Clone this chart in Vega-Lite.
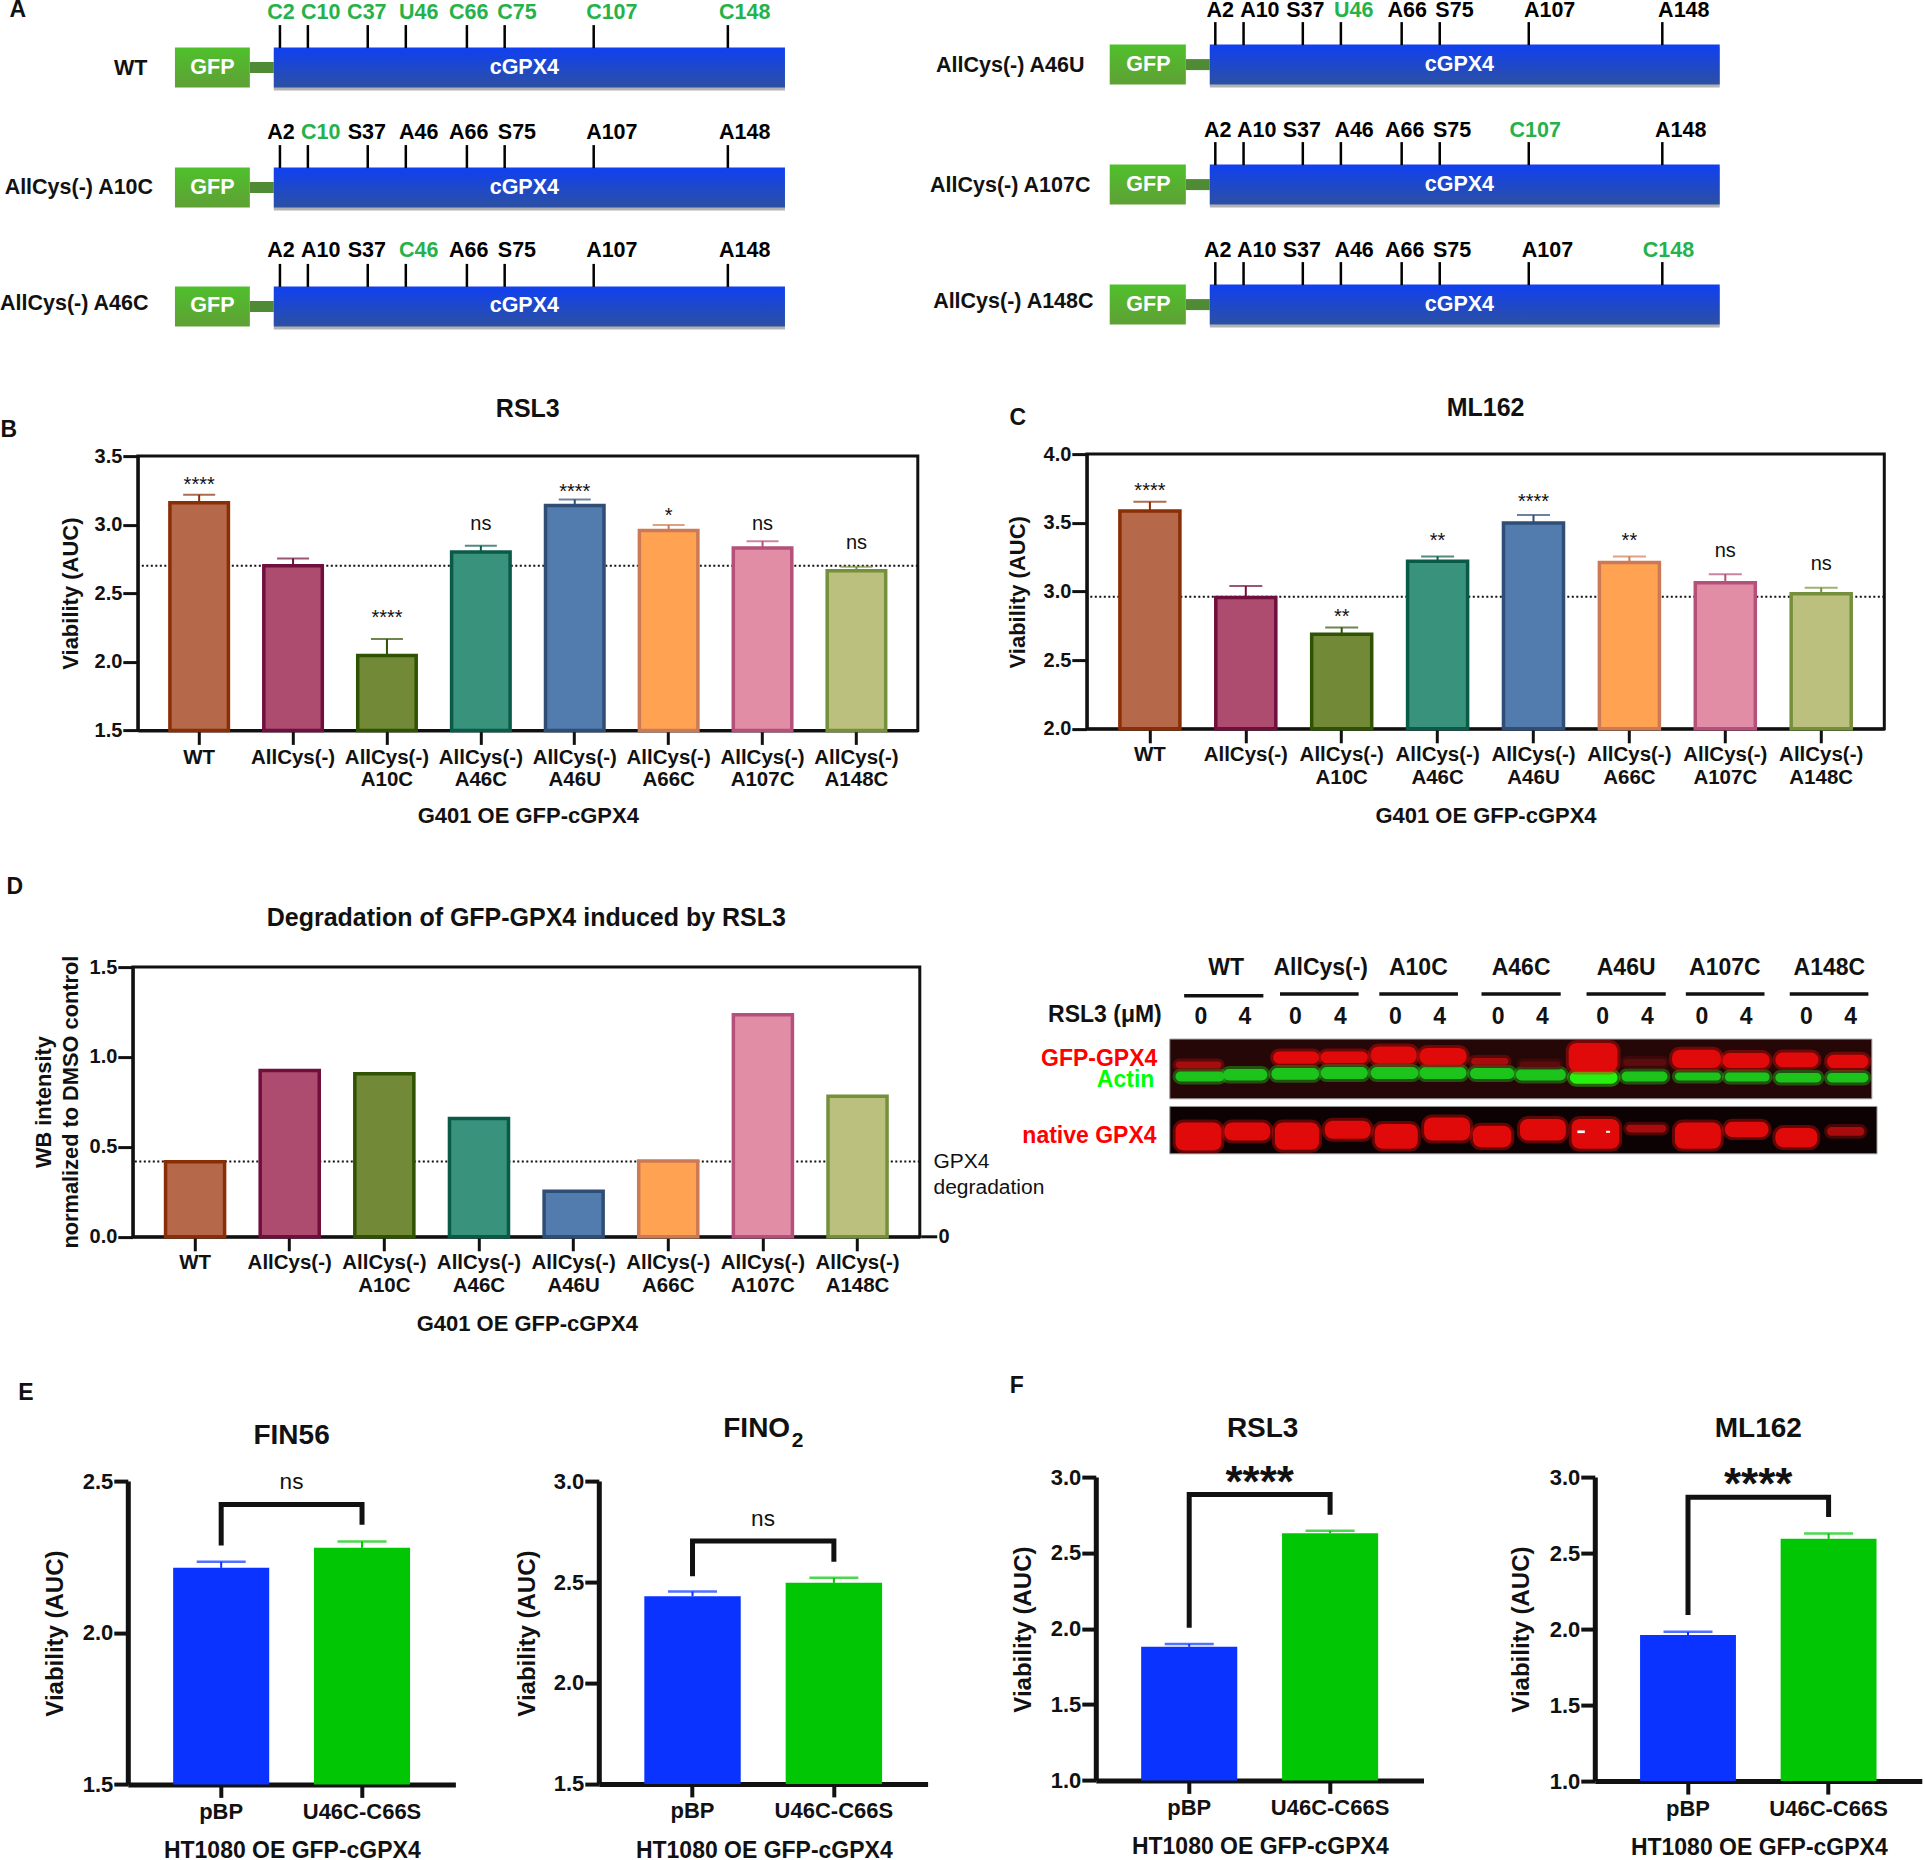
{"$schema":"https://vega.github.io/schema/vega-lite/v6.json","padding":{"left":-1.2,"top":-0.9,"right":0,"bottom":0},"background":"white","bounds":"flush","spacing":0,
"resolve":{"scale":{"color":"independent","fill":"independent","stroke":"independent"}},
"config":{"view":{"stroke":null},"font":"Liberation Sans",
"axis":{"grid":false,"labelFont":"Liberation Sans","titleFont":"Liberation Sans","labelFontWeight":"bold","titleFontWeight":"bold","domainColor":"#111","tickColor":"#111","labelColor":"#111","titleColor":"#111","domainWidth":3,"tickWidth":3,"zindex":1,"labelOverlap":false,"titleBaseline":"middle","titleAlign":"center"},
"axisX":{"labelAngle":0,"tickSize":14,"labelFontSize":20.5,"labelPadding":3,"labelLineHeight":22.5,"titleFontSize":22,"labelBaseline":"top"},
"axisY":{"tickSize":15,"labelFontSize":20,"labelPadding":1,"titleFontSize":22},
"title":{"font":"Liberation Sans","fontWeight":"bold","color":"#111","anchor":"middle"},
"text":{"font":"Liberation Sans","baseline":"middle","color":"#111"}},
"datasets":{
"constructsL":[{"row":1,"name":"WT","nx":-46.6,"ny":1.008},{"row":2,"name":"AllCys(-) A10C","nx":-63.5,"ny":2},{"row":2.99,"name":"AllCys(-) A46C","nx":-65,"ny":2.967}],
"constructsR":[{"row":1,"name":"AllCys(-) A46U","nx":-65,"ny":1.01},{"row":2,"name":"AllCys(-) A107C","nx":-65,"ny":2.01},{"row":3,"name":"AllCys(-) A148C","nx":-64,"ny":2.98}],
"sitesL":[
{"row":1,"pos":2,"lx":2.3,"label":"C2"},{"row":1,"pos":11.1,"lx":15.3,"label":"C10"},{"row":1,"pos":30.6,"lx":30.3,"label":"C37"},{"row":1,"pos":43,"lx":47.2,"label":"U46"},{"row":1,"pos":62.9,"lx":63.5,"label":"C66"},{"row":1,"pos":75.2,"lx":79.2,"label":"C75"},{"row":1,"pos":104.2,"lx":110.1,"label":"C107"},{"row":1,"pos":147.9,"lx":153.4,"label":"C148"},
{"row":2,"pos":2,"lx":2.3,"label":"A2"},{"row":2,"pos":11.1,"lx":15.3,"label":"C10"},{"row":2,"pos":30.6,"lx":30.3,"label":"S37"},{"row":2,"pos":43,"lx":47.2,"label":"A46"},{"row":2,"pos":62.9,"lx":63.5,"label":"A66"},{"row":2,"pos":75.2,"lx":79.2,"label":"S75"},{"row":2,"pos":104.2,"lx":110.1,"label":"A107"},{"row":2,"pos":147.9,"lx":153.4,"label":"A148"},
{"row":2.99,"pos":2,"lx":2.3,"label":"A2"},{"row":2.99,"pos":11.1,"lx":15.3,"label":"A10"},{"row":2.99,"pos":30.6,"lx":30.3,"label":"S37"},{"row":2.99,"pos":43,"lx":47.2,"label":"C46"},{"row":2.99,"pos":62.9,"lx":63.5,"label":"A66"},{"row":2.99,"pos":75.2,"lx":79.2,"label":"S75"},{"row":2.99,"pos":104.2,"lx":110.1,"label":"A107"},{"row":2.99,"pos":147.9,"lx":153.4,"label":"A148"}],
"sitesR":[
{"row":1,"pos":1.8,"lx":3.4,"label":"A2"},{"row":1,"pos":11,"lx":16.3,"label":"A10"},{"row":1,"pos":30.3,"lx":31.1,"label":"S37"},{"row":1,"pos":42.7,"lx":46.9,"label":"U46"},{"row":1,"pos":62.5,"lx":64.3,"label":"A66"},{"row":1,"pos":74.9,"lx":79.7,"label":"S75"},{"row":1,"pos":103.9,"lx":110.7,"label":"A107"},{"row":1,"pos":147.4,"lx":154.4,"label":"A148"},
{"row":2,"pos":1.8,"lx":2.6,"label":"A2"},{"row":2,"pos":11,"lx":15.3,"label":"A10"},{"row":2,"pos":30.3,"lx":30,"label":"S37"},{"row":2,"pos":42.7,"lx":47,"label":"A46"},{"row":2,"pos":62.5,"lx":63.5,"label":"A66"},{"row":2,"pos":74.9,"lx":78.9,"label":"S75"},{"row":2,"pos":103.9,"lx":106,"label":"C107"},{"row":2,"pos":147.4,"lx":153.4,"label":"A148"},
{"row":3,"pos":1.8,"lx":2.6,"label":"A2"},{"row":3,"pos":11,"lx":15.3,"label":"A10"},{"row":3,"pos":30.3,"lx":30,"label":"S37"},{"row":3,"pos":42.7,"lx":47,"label":"A46"},{"row":3,"pos":62.5,"lx":63.5,"label":"A66"},{"row":3,"pos":74.9,"lx":78.9,"label":"S75"},{"row":3,"pos":103.9,"lx":110,"label":"A107"},{"row":3,"pos":147.4,"lx":149.4,"label":"C148"}],
"rsl3":[{"construct":"WT","v":3.16,"cap":3.218,"sig":"****","sig_y":3.29},{"construct":"AllCys(-)","v":2.70,"cap":2.754,"sig":"","sig_y":2.9},{"construct":"AllCys(-)|A10C","v":2.047,"cap":2.166,"sig":"****","sig_y":2.32},{"construct":"AllCys(-)|A46C","v":2.80,"cap":2.846,"sig":"ns","sig_y":3.007},{"construct":"AllCys(-)|A46U","v":3.14,"cap":3.184,"sig":"****","sig_y":3.236},{"construct":"AllCys(-)|A66C","v":2.958,"cap":2.997,"sig":"*","sig_y":3.066},{"construct":"AllCys(-)|A107C","v":2.83,"cap":2.88,"sig":"ns","sig_y":3.007},{"construct":"AllCys(-)|A148C","v":2.664,"cap":2.693,"sig":"ns","sig_y":2.863}],
"ml162":[{"construct":"WT","v":3.585,"cap":3.653,"sig":"****","sig_y":3.73},{"construct":"AllCys(-)","v":2.956,"cap":3.039,"sig":"","sig_y":3.2},{"construct":"AllCys(-)|A10C","v":2.689,"cap":2.738,"sig":"**","sig_y":2.815},{"construct":"AllCys(-)|A46C","v":3.22,"cap":3.255,"sig":"**","sig_y":3.37},{"construct":"AllCys(-)|A46U","v":3.498,"cap":3.556,"sig":"****","sig_y":3.65},{"construct":"AllCys(-)|A66C","v":3.211,"cap":3.255,"sig":"**","sig_y":3.37},{"construct":"AllCys(-)|A107C","v":3.063,"cap":3.126,"sig":"ns","sig_y":3.294},{"construct":"AllCys(-)|A148C","v":2.983,"cap":3.027,"sig":"ns","sig_y":3.199}],
"degr":[{"construct":"WT","v":0.417},{"construct":"AllCys(-)","v":0.925},{"construct":"AllCys(-)|A10C","v":0.907},{"construct":"AllCys(-)|A46C","v":0.658},{"construct":"AllCys(-)|A46U","v":0.254},{"construct":"AllCys(-)|A66C","v":0.421},{"construct":"AllCys(-)|A107C","v":1.235},{"construct":"AllCys(-)|A148C","v":0.782}],
"gelBack":[{"x":295,"x2":1518,"y":328,"y2":507,"panel":"top"},{"x":295,"x2":1527,"y":530,"y2":672,"panel":"bottom"}],
"gelBands":[
{"x":305,"x2":390,"y":425,"y2":455,"signal":"green"},{"x":388,"x2":465,"y":418,"y2":452,"signal":"green"},{"x":472,"x2":555,"y":415,"y2":450,"signal":"green"},{"x":558,"x2":640,"y":412,"y2":448,"signal":"green"},{"x":645,"x2":728,"y":412,"y2":448,"signal":"green"},{"x":730,"x2":812,"y":412,"y2":448,"signal":"green"},{"x":818,"x2":895,"y":415,"y2":448,"signal":"green"},{"x":898,"x2":985,"y":418,"y2":452,"signal":"green"},{"x":992,"x2":1075,"y":425,"y2":462,"signal":"green high"},{"x":1082,"x2":1162,"y":425,"y2":455,"signal":"green"},{"x":1175,"x2":1255,"y":428,"y2":452,"signal":"green"},{"x":1262,"x2":1340,"y":428,"y2":455,"signal":"green"},{"x":1350,"x2":1430,"y":430,"y2":458,"signal":"green"},{"x":1440,"x2":1512,"y":430,"y2":458,"signal":"green"},
{"x":305,"x2":385,"y":395,"y2":415,"signal":"red mid"},{"x":475,"x2":555,"y":365,"y2":402,"signal":"red high"},{"x":558,"x2":640,"y":365,"y2":400,"signal":"red high"},{"x":645,"x2":725,"y":350,"y2":402,"signal":"red high"},{"x":730,"x2":812,"y":355,"y2":405,"signal":"red high"},{"x":820,"x2":885,"y":385,"y2":405,"signal":"red mid"},{"x":905,"x2":975,"y":395,"y2":412,"signal":"red low"},{"x":990,"x2":1075,"y":340,"y2":425,"signal":"red high"},{"x":1085,"x2":1160,"y":388,"y2":408,"signal":"red low"},{"x":1170,"x2":1255,"y":360,"y2":415,"signal":"red high"},{"x":1258,"x2":1340,"y":370,"y2":415,"signal":"red high"},{"x":1350,"x2":1425,"y":368,"y2":412,"signal":"red high"},{"x":1440,"x2":1512,"y":375,"y2":415,"signal":"red high"},
{"x":305,"x2":385,"y":578,"y2":662,"signal":"red high"},{"x":390,"x2":470,"y":578,"y2":632,"signal":"red high"},{"x":478,"x2":555,"y":578,"y2":660,"signal":"red high"},{"x":565,"x2":645,"y":573,"y2":627,"signal":"red high"},{"x":652,"x2":727,"y":583,"y2":657,"signal":"red high"},{"x":738,"x2":818,"y":563,"y2":632,"signal":"red high"},{"x":823,"x2":890,"y":588,"y2":652,"signal":"red high"},{"x":905,"x2":985,"y":568,"y2":632,"signal":"red high"},{"x":995,"x2":1078,"y":568,"y2":657,"signal":"red high"},{"x":1090,"x2":1160,"y":585,"y2":608,"signal":"red mid"},{"x":1175,"x2":1255,"y":578,"y2":657,"signal":"red high"},{"x":1262,"x2":1338,"y":576,"y2":622,"signal":"red high"},{"x":1350,"x2":1423,"y":595,"y2":652,"signal":"red high"},{"x":1440,"x2":1505,"y":592,"y2":618,"signal":"red mid"}],
"gelSpecks":[{"x":1005,"x2":1018,"y":602,"y2":610},{"x":1055,"x2":1062,"y":603,"y2":609}],
"gelLines":[{"x":320,"x2":458,"y":198},{"x":487,"x2":624,"y":193},{"x":660,"x2":797,"y":193},{"x":838,"x2":976,"y":193},{"x":1021,"x2":1159,"y":193},{"x":1194,"x2":1331,"y":193},{"x":1375,"x2":1512,"y":193}],
"gelText":[{"x":393,"y":115,"label":"WT"},{"x":558,"y":115,"label":"AllCys(-)"},{"x":728,"y":115,"label":"A10C"},{"x":907,"y":115,"label":"A46C"},{"x":1090,"y":115,"label":"A46U"},{"x":1262,"y":115,"label":"A107C"},{"x":1444,"y":115,"label":"A148C"},{"x":182,"y":255,"label":"RSL3 (μM)"},
{"x":349,"y":262,"label":"0"},{"x":426,"y":262,"label":"4"},{"x":514,"y":262,"label":"0"},{"x":592,"y":262,"label":"4"},{"x":688,"y":262,"label":"0"},{"x":765,"y":262,"label":"4"},{"x":867,"y":262,"label":"0"},{"x":944,"y":262,"label":"4"},{"x":1049,"y":262,"label":"0"},{"x":1127,"y":262,"label":"4"},{"x":1222,"y":262,"label":"0"},{"x":1299,"y":262,"label":"4"},{"x":1404,"y":262,"label":"0"},{"x":1481,"y":262,"label":"4"},
{"x":172,"y":388,"label":"GFP-GPX4"},{"x":218,"y":450,"label":"Actin"},{"x":155,"y":618,"label":"native GPX4"}]
},
"vconcat":[
{"bounds":"flush","spacing":0,"hconcat":[
{"width":962,"height":340,
"layer":[
{"data":{"name":"constructsL"},"mark":{"type":"bar","orient":"horizontal","size":40,"color":"#555","opacity":0.45,"yOffset":3},"encoding":{"y":{"field":"row","type":"quantitative","scale":{"domain":[0.4292,3.2625],"reverse":true,"nice":false,"padding":0},"axis":null},"x":{"datum":0,"type":"quantitative","scale":{"domain":[-89.25,224.1],"nice":false},"axis":null},"x2":{"datum":166.5}}},
{"data":{"name":"constructsL"},"mark":{"type":"bar","orient":"horizontal","size":11,"color":"#4f8a35"},"encoding":{"y":{"field":"row","type":"quantitative","axis":null},"x":{"datum":-7.8,"type":"quantitative","axis":null},"x2":{"datum":0}}},
{"data":{"name":"constructsL"},"mark":{"type":"bar","orient":"horizontal","size":40,"color":{"gradient":"linear","x1":0,"y1":0,"x2":0,"y2":1,"stops":[{"offset":0,"color":"#1040f2"},{"offset":1,"color":"#2c50a2"}]}},"encoding":{"y":{"field":"row","type":"quantitative","axis":null},"x":{"datum":0,"type":"quantitative","axis":null},"x2":{"datum":166.5}}},
{"data":{"name":"constructsL"},"mark":{"type":"bar","orient":"horizontal","size":40,"color":{"gradient":"linear","x1":0,"y1":0,"x2":0,"y2":1,"stops":[{"offset":0,"color":"#4fc02c"},{"offset":1,"color":"#5fa035"}]}},"encoding":{"y":{"field":"row","type":"quantitative","axis":null},"x":{"datum":-32.2,"type":"quantitative","axis":null},"x2":{"datum":-7.8}}},
{"data":{"name":"sitesL"},"mark":{"type":"tick","orient":"vertical","size":23,"thickness":2.5,"color":"#000","yOffset":-31,"opacity":1},"encoding":{"x":{"field":"pos","type":"quantitative","axis":null},"y":{"field":"row","type":"quantitative","axis":null}}},
{"data":{"name":"sitesL"},"mark":{"type":"text","fontSize":21.5,"fontWeight":"bold","yOffset":-55},"encoding":{"x":{"field":"lx","type":"quantitative","axis":null},"y":{"field":"row","type":"quantitative","axis":null},"text":{"field":"label"},"color":{"condition":{"test":"test(/^[CU]/,datum.label)","value":"#25b24a"},"value":"#000"}}},
{"data":{"name":"constructsL"},"mark":{"type":"text","fontSize":21.5,"fontWeight":"bold"},"encoding":{"x":{"field":"nx","type":"quantitative","axis":null},"y":{"field":"ny","type":"quantitative","axis":null},"text":{"field":"name"}}},
{"data":{"name":"constructsL"},"mark":{"type":"text","fontSize":21.5,"fontWeight":"bold","color":"#fff"},"encoding":{"x":{"datum":81.6,"type":"quantitative","axis":null},"y":{"field":"row","type":"quantitative","axis":null},"text":{"datum":"cGPX4"}}},
{"data":{"name":"constructsL"},"mark":{"type":"text","fontSize":21.5,"fontWeight":"bold","color":"#fff"},"encoding":{"x":{"datum":-20,"type":"quantitative","axis":null},"y":{"field":"row","type":"quantitative","axis":null},"text":{"datum":"GFP"}}}
]}]},
{"bounds":"flush","spacing":0,"hconcat":[
{"width":962,"height":1,"data":{"values":[]},"mark":"point","encoding":{}},
{"width":963,"height":340,
"layer":[
{"data":{"name":"constructsR"},"mark":{"type":"bar","orient":"horizontal","size":40,"color":"#555","opacity":0.45,"yOffset":3},"encoding":{"y":{"field":"row","type":"quantitative","scale":{"domain":[0.4542,3.2875],"reverse":true,"nice":false,"padding":0},"axis":null},"x":{"datum":0,"type":"quantitative","scale":{"domain":[-80.78,232.9],"nice":false},"axis":null},"x2":{"datum":166.1}}},
{"data":{"name":"constructsR"},"mark":{"type":"bar","orient":"horizontal","size":11,"color":"#4f8a35"},"encoding":{"y":{"field":"row","type":"quantitative","axis":null},"x":{"datum":-7.8,"type":"quantitative","axis":null},"x2":{"datum":0}}},
{"data":{"name":"constructsR"},"mark":{"type":"bar","orient":"horizontal","size":40,"color":{"gradient":"linear","x1":0,"y1":0,"x2":0,"y2":1,"stops":[{"offset":0,"color":"#1040f2"},{"offset":1,"color":"#2c50a2"}]}},"encoding":{"y":{"field":"row","type":"quantitative","axis":null},"x":{"datum":0,"type":"quantitative","axis":null},"x2":{"datum":166.1}}},
{"data":{"name":"constructsR"},"mark":{"type":"bar","orient":"horizontal","size":40,"color":{"gradient":"linear","x1":0,"y1":0,"x2":0,"y2":1,"stops":[{"offset":0,"color":"#4fc02c"},{"offset":1,"color":"#5fa035"}]}},"encoding":{"y":{"field":"row","type":"quantitative","axis":null},"x":{"datum":-32.6,"type":"quantitative","axis":null},"x2":{"datum":-7.8}}},
{"data":{"name":"sitesR"},"mark":{"type":"tick","orient":"vertical","size":23,"thickness":2.5,"color":"#000","yOffset":-31,"opacity":1},"encoding":{"x":{"field":"pos","type":"quantitative","axis":null},"y":{"field":"row","type":"quantitative","axis":null}}},
{"data":{"name":"sitesR"},"mark":{"type":"text","fontSize":21.5,"fontWeight":"bold","yOffset":-54},"encoding":{"x":{"field":"lx","type":"quantitative","axis":null},"y":{"field":"row","type":"quantitative","axis":null},"text":{"field":"label"},"color":{"condition":{"test":"test(/^[CU]/,datum.label)","value":"#25b24a"},"value":"#000"}}},
{"data":{"name":"constructsR"},"mark":{"type":"text","fontSize":21.5,"fontWeight":"bold"},"encoding":{"x":{"field":"nx","type":"quantitative","axis":null},"y":{"field":"ny","type":"quantitative","axis":null},"text":{"field":"name"}}},
{"data":{"name":"constructsR"},"mark":{"type":"text","fontSize":21.5,"fontWeight":"bold","color":"#fff"},"encoding":{"x":{"datum":81.3,"type":"quantitative","axis":null},"y":{"field":"row","type":"quantitative","axis":null},"text":{"datum":"cGPX4"}}},
{"data":{"name":"constructsR"},"mark":{"type":"text","fontSize":21.5,"fontWeight":"bold","color":"#fff"},"encoding":{"x":{"datum":-20,"type":"quantitative","axis":null},"y":{"field":"row","type":"quantitative","axis":null},"text":{"datum":"GFP"}}}
]}]},
{"bounds":"flush","spacing":0,"hconcat":[
{"width":138,"height":1,"data":{"values":[]},"mark":"point","encoding":{}},
{"bounds":"flush","spacing":0,"vconcat":[
{"width":1,"height":456.7,"data":{"values":[]},"mark":"point","encoding":{}},
{"width":780,"height":274.3,"view":{"stroke":"#111","strokeWidth":3},"title":{"text":"RSL3","fontSize":25,"offset":24},"data":{"name":"rsl3"},
"encoding":{"x":{"field":"construct","type":"nominal","sort":null,"scale":{"paddingInner":0.377,"paddingOuter":0.342},"axis":{"title":"G401 OE GFP-cGPX4","labelExpr":"split(datum.label,'|')","titleX":390,"titleY":85}}},
"layer":[
{"data":{"values":[{"ref":2.7}]},"mark":{"type":"rule","strokeDash":[2,2.5],"strokeWidth":2,"color":"#111"},"encoding":{"x":null,"y":{"field":"ref","type":"quantitative","scale":{"domain":[1.5,3.5],"nice":false},"axis":{"title":"Viability (AUC)","values":[1.5,2,2.5,3,3.5],"format":".1f","titleX":-67.5,"titleY":137}}}},
{"mark":{"type":"rule","strokeWidth":2},"encoding":{"y":{"field":"v","type":"quantitative"},"y2":{"field":"cap"},"color":{"field":"construct","type":"nominal","sort":null,"scale":{"range":["#8a2e05","#6e0f3d","#2f5203","#0a5a48","#2f4d75","#cc7a55","#b5507a","#75903a"]},"legend":null}}},
{"mark":{"type":"tick","orient":"horizontal","size":32,"thickness":2},"encoding":{"y":{"field":"cap","type":"quantitative"},"color":{"field":"construct","type":"nominal","sort":null,"legend":null}}},
{"mark":{"type":"bar","strokeWidth":3.5},"encoding":{"y":{"field":"v","type":"quantitative"},"y2":{"datum":1.5},"fill":{"field":"construct","type":"nominal","sort":null,"scale":{"range":["#b5694a","#ae4c70","#728a38","#38927c","#527cad","#ffa352","#e08da5","#bcc07e"]},"legend":null},"stroke":{"field":"construct","type":"nominal","sort":null,"scale":{"range":["#8a2e05","#6e0f3d","#2f5203","#0a5a48","#2f4d75","#cc7a55","#b5507a","#75903a"]},"legend":null}}},
{"mark":{"type":"text","fontSize":20},"encoding":{"y":{"field":"sig_y","type":"quantitative"},"text":{"field":"sig"}}}
]}]}]},
{"bounds":"flush","spacing":0,"hconcat":[
{"width":1086.5,"height":1,"data":{"values":[]},"mark":"point","encoding":{}},
{"bounds":"flush","spacing":0,"vconcat":[
{"width":1,"height":454.3,"data":{"values":[]},"mark":"point","encoding":{}},
{"width":797.5,"height":274.7,"view":{"stroke":"#111","strokeWidth":3},"title":{"text":"ML162","fontSize":25,"offset":23},"data":{"name":"ml162"},
"encoding":{"x":{"field":"construct","type":"nominal","sort":null,"scale":{"paddingInner":0.374,"paddingOuter":0.345},"axis":{"title":"G401 OE GFP-cGPX4","labelExpr":"split(datum.label,'|')","titleX":398.7,"titleY":87,"labelPadding":2}}},
"layer":[
{"data":{"values":[{"ref":2.961}]},"mark":{"type":"rule","strokeDash":[2,2.5],"strokeWidth":2,"color":"#111"},"encoding":{"x":null,"y":{"field":"ref","type":"quantitative","scale":{"domain":[2,4],"nice":false},"axis":{"title":"Viability (AUC)","values":[2,2.5,3,3.5,4],"format":".1f","titleX":-69.5,"titleY":137.7}}}},
{"mark":{"type":"rule","strokeWidth":2},"encoding":{"y":{"field":"v","type":"quantitative"},"y2":{"field":"cap"},"color":{"field":"construct","type":"nominal","sort":null,"scale":{"range":["#8a2e05","#6e0f3d","#2f5203","#0a5a48","#2f4d75","#cc7a55","#b5507a","#75903a"]},"legend":null}}},
{"mark":{"type":"tick","orient":"horizontal","size":33,"thickness":2},"encoding":{"y":{"field":"cap","type":"quantitative"},"color":{"field":"construct","type":"nominal","sort":null,"legend":null}}},
{"mark":{"type":"bar","strokeWidth":3.5},"encoding":{"y":{"field":"v","type":"quantitative"},"y2":{"datum":2},"fill":{"field":"construct","type":"nominal","sort":null,"scale":{"range":["#b5694a","#ae4c70","#728a38","#38927c","#527cad","#ffa352","#e08da5","#bcc07e"]},"legend":null},"stroke":{"field":"construct","type":"nominal","sort":null,"scale":{"range":["#8a2e05","#6e0f3d","#2f5203","#0a5a48","#2f4d75","#cc7a55","#b5507a","#75903a"]},"legend":null}}},
{"mark":{"type":"text","fontSize":20},"encoding":{"y":{"field":"sig_y","type":"quantitative"},"text":{"field":"sig"}}}
]}]}]},
{"bounds":"flush","spacing":0,"hconcat":[
{"width":132.5,"height":1,"data":{"values":[]},"mark":"point","encoding":{}},
{"bounds":"flush","spacing":0,"vconcat":[
{"width":1,"height":968,"data":{"values":[]},"mark":"point","encoding":{}},
{"width":787,"height":269.7,"view":{"stroke":"#111","strokeWidth":3},"title":{"text":"Degradation of GFP-GPX4 induced by RSL3","fontSize":25,"offset":24},"data":{"name":"degr"},
"encoding":{"x":{"field":"construct","type":"nominal","sort":null,"scale":{"paddingInner":0.376,"paddingOuter":0.346},"axis":{"title":"G401 OE GFP-cGPX4","labelExpr":"split(datum.label,'|')","titleX":394,"titleY":87,"labelPadding":2}}},
"layer":[
{"data":{"values":[{"ref":0.419}]},"mark":{"type":"rule","strokeDash":[2,2.5],"strokeWidth":2,"color":"#111"},"encoding":{"x":null,"y":{"field":"ref","type":"quantitative","scale":{"domain":[0,1.5],"nice":false},"axis":{"title":["WB intensity","normalized to DMSO control"],"values":[0,0.5,1,1.5],"format":".1f","titleX":-89.5,"titleY":134.5,"titleLineHeight":27,"titleFontSize":21.8}}}},
{"mark":{"type":"bar","strokeWidth":3.5},"encoding":{"y":{"field":"v","type":"quantitative"},"y2":{"datum":0},"fill":{"field":"construct","type":"nominal","sort":null,"scale":{"range":["#b5694a","#ae4c70","#728a38","#38927c","#527cad","#ffa352","#e08da5","#bcc07e"]},"legend":null},"stroke":{"field":"construct","type":"nominal","sort":null,"scale":{"range":["#8a2e05","#6e0f3d","#2f5203","#0a5a48","#2f4d75","#cc7a55","#b5507a","#75903a"]},"legend":null}}},
{"data":{"values":[{"construct":"AllCys(-)|A148C","v":0,"note":"0"}]},"mark":{"type":"tick","orient":"horizontal","size":16,"thickness":3,"color":"#111","xOffset":71.7,"opacity":1},"encoding":{"y":{"field":"v","type":"quantitative"}}},
{"data":{"values":[{"construct":"AllCys(-)|A148C","v":0,"note":"0"}]},"mark":{"type":"text","fontSize":20,"fontWeight":"bold","align":"left","xOffset":81},"encoding":{"y":{"field":"v","type":"quantitative"},"text":{"field":"note"}}},
{"data":{"values":[{"construct":"AllCys(-)|A148C","v":0.417,"note":"GPX4"},{"construct":"AllCys(-)|A148C","v":0.274,"note":"degradation"}]},"mark":{"type":"text","fontSize":21,"align":"left","xOffset":76},"encoding":{"y":{"field":"v","type":"quantitative"},"text":{"field":"note"}}}
]}]}]},
{"bounds":"flush","spacing":0,"hconcat":[
{"width":1169.3,"height":1,"data":{"values":[]},"mark":"point","encoding":{}},
{"bounds":"flush","spacing":0,"vconcat":[
{"width":1,"height":1039.3,"data":{"values":[]},"mark":"point","encoding":{}},
{"width":707.2,"height":114.7,
"layer":[
{"data":{"name":"gelBack"},"mark":{"type":"rect","stroke":"#999","strokeWidth":1},"encoding":{"x":{"field":"x","type":"quantitative","scale":{"domain":[295,1527],"nice":false,"zero":false},"axis":null},"x2":{"field":"x2"},"y":{"field":"y","type":"quantitative","scale":{"domain":[328,672],"reverse":true,"nice":false,"zero":false},"axis":null},"y2":{"field":"y2"},"color":{"field":"panel","type":"nominal","scale":{"domain":["top","bottom"],"range":["#260707","#0c0203"]},"legend":null}}},
{"data":{"name":"gelBands"},"mark":{"type":"rect","cornerRadius":8,"strokeWidth":6,"strokeOpacity":0.4},"encoding":{"x":{"field":"x","type":"quantitative","axis":null},"x2":{"field":"x2"},"y":{"field":"y","type":"quantitative","axis":null},"y2":{"field":"y2"},"fill":{"field":"signal","type":"nominal","scale":{"domain":["green","green high","red high","red mid","red low"],"range":["#1cc41c","#28f010","#e00a0a","#a80c0c","#5c0c0c"]},"legend":null},"stroke":{"field":"signal","type":"nominal","scale":{"domain":["green","green high","red high","red mid","red low"],"range":["#1cc41c","#28f010","#e00a0a","#a80c0c","#5c0c0c"]},"legend":null}}},
{"data":{"name":"gelSpecks"},"mark":{"type":"rect","color":"#fff"},"encoding":{"x":{"field":"x","type":"quantitative","axis":null},"x2":{"field":"x2"},"y":{"field":"y","type":"quantitative","axis":null},"y2":{"field":"y2"}}},
{"data":{"name":"gelLines"},"mark":{"type":"rule","strokeWidth":3.5,"color":"#111"},"encoding":{"x":{"field":"x","type":"quantitative","axis":null},"x2":{"field":"x2"},"y":{"field":"y","type":"quantitative","axis":null}}},
{"data":{"name":"gelText"},"mark":{"type":"text","fontSize":23,"fontWeight":"bold"},"encoding":{"x":{"field":"x","type":"quantitative","axis":null},"y":{"field":"y","type":"quantitative","axis":null},"text":{"field":"label"},"color":{"condition":[{"test":"datum.label=='Actin'","value":"#00ff00"},{"test":"indexof(datum.label,'GPX4')>=0","value":"#ff0000"}],"value":"#111"}}}
]}]}]},
{"bounds":"flush","spacing":0,"hconcat":[
{"width":127.6,"height":1,"data":{"values":[]},"mark":"point","encoding":{}},
{"bounds":"flush","spacing":0,"vconcat":[
{"width":1,"height":1481.7,"data":{"values":[]},"mark":"point","encoding":{}},
{"width":327.6,"height":303.3,"title":{"text":"FIN56","fontSize":28,"offset":20},
"data":{"values":[{"group":"pBP","v":2.214,"cap":2.234},{"group":"U46C-C66S","v":2.28,"cap":2.301}]},
"encoding":{"x":{"field":"group","type":"nominal","sort":null,"scale":{"paddingInner":0.318,"paddingOuter":0.322},"axis":{"title":"HT1080 OE GFP-cGPX4","titleX":164,"titleY":66.5,"titleFontSize":23,"labelFontSize":22,"domainWidth":5,"tickWidth":4,"tickSize":13,"labelPadding":4}}},
"layer":[
{"mark":{"type":"rule","strokeWidth":2},"encoding":{"y":{"field":"v","type":"quantitative","scale":{"domain":[1.5,2.5],"nice":false},"axis":{"title":"Viability (AUC)","values":[1.5,2,2.5],"format":".1f","titleX":-72.6,"titleY":152,"titleFontSize":24,"labelFontSize":22,"domainWidth":5,"tickWidth":4,"tickSize":14}},"y2":{"field":"cap"},"color":{"field":"group","type":"nominal","sort":null,"scale":{"range":["#0a33ff","#00c603"]},"legend":null}}},
{"mark":{"type":"tick","orient":"horizontal","size":49,"thickness":2.5},"encoding":{"y":{"field":"cap","type":"quantitative"},"color":{"field":"group","type":"nominal","sort":null,"legend":null}}},
{"mark":{"type":"bar"},"encoding":{"y":{"field":"v","type":"quantitative"},"y2":{"datum":1.5},"color":{"field":"group","type":"nominal","sort":null,"legend":null}}},
{"data":{"values":[{"group":"pBP","y":2.288,"step":1},{"group":"pBP","y":2.423,"step":2},{"group":"U46C-C66S","y":2.423,"step":3},{"group":"U46C-C66S","y":2.356,"step":4}]},"mark":{"type":"line","color":"#111","strokeWidth":5,"strokeCap":"butt"},"encoding":{"y":{"field":"y","type":"quantitative"},"order":{"field":"step"}}},
{"data":{"values":[{"group":"pBP","y":2.497,"label":"ns"}]},"mark":{"type":"text","fontSize":22.6,"xOffset":70.35},"encoding":{"y":{"field":"y","type":"quantitative"},"text":{"field":"label"}}}
]}]}]},
{"bounds":"flush","spacing":0,"hconcat":[
{"width":598.8,"height":1,"data":{"values":[]},"mark":"point","encoding":{}},
{"bounds":"flush","spacing":0,"vconcat":[
{"width":1,"height":1481.7,"data":{"values":[]},"mark":"point","encoding":{}},
{"width":328.8,"height":302.8,"title":{"text":"FINO","fontSize":28,"offset":-13.5,"dx":-6.5},
"data":{"values":[{"group":"pBP","v":2.43,"cap":2.453},{"group":"U46C-C66S","v":2.496,"cap":2.521}]},
"encoding":{"x":{"field":"group","type":"nominal","sort":null,"scale":{"paddingInner":0.318,"paddingOuter":0.322},"axis":{"title":"HT1080 OE GFP-cGPX4","titleX":165,"titleY":66.5,"titleFontSize":23,"labelFontSize":22,"domainWidth":5,"tickWidth":4,"tickSize":13,"labelPadding":4}}},
"layer":[
{"mark":{"type":"rule","strokeWidth":2},"encoding":{"y":{"field":"v","type":"quantitative","scale":{"domain":[1.5,3],"nice":false},"axis":{"title":"Viability (AUC)","values":[1.5,2,2.5,3],"format":".1f","titleX":-71.2,"titleY":152,"titleFontSize":24,"labelFontSize":22,"domainWidth":5,"tickWidth":4,"tickSize":14}},"y2":{"field":"cap"},"color":{"field":"group","type":"nominal","sort":null,"scale":{"range":["#0a33ff","#00c603"]},"legend":null}}},
{"mark":{"type":"tick","orient":"horizontal","size":49,"thickness":2.5},"encoding":{"y":{"field":"cap","type":"quantitative"},"color":{"field":"group","type":"nominal","sort":null,"legend":null}}},
{"mark":{"type":"bar"},"encoding":{"y":{"field":"v","type":"quantitative"},"y2":{"datum":1.5},"color":{"field":"group","type":"nominal","sort":null,"legend":null}}},
{"data":{"values":[{"group":"pBP","y":2.529,"step":1},{"group":"pBP","y":2.703,"step":2},{"group":"U46C-C66S","y":2.703,"step":3},{"group":"U46C-C66S","y":2.6,"step":4}]},"mark":{"type":"line","color":"#111","strokeWidth":5,"strokeCap":"butt"},"encoding":{"y":{"field":"y","type":"quantitative"},"order":{"field":"step"}}},
{"data":{"values":[{"group":"pBP","y":2.81,"label":"ns"}]},"mark":{"type":"text","fontSize":22.6,"xOffset":70.5},"encoding":{"y":{"field":"y","type":"quantitative"},"text":{"field":"label"}}},
{"data":{"values":[{"group":"pBP","y":3.2,"label":"2"}]},"mark":{"type":"text","fontSize":21,"fontWeight":"bold","xOffset":105},"encoding":{"y":{"field":"y","type":"quantitative"},"text":{"field":"label"}}}
]}]}]},
{"bounds":"flush","spacing":0,"hconcat":[
{"width":1095.7,"height":1,"data":{"values":[]},"mark":"point","encoding":{}},
{"bounds":"flush","spacing":0,"vconcat":[
{"width":1,"height":1477.7,"data":{"values":[]},"mark":"point","encoding":{}},
{"width":327.7,"height":303.3,"title":{"text":"RSL3","fontSize":28,"offset":19,"dx":3},
"data":{"values":[{"group":"pBP","v":1.881,"cap":1.899},{"group":"U46C-C66S","v":2.629,"cap":2.646}]},
"encoding":{"x":{"field":"group","type":"nominal","sort":null,"scale":{"paddingInner":0.318,"paddingOuter":0.322},"axis":{"title":"HT1080 OE GFP-cGPX4","titleX":164,"titleY":66,"titleFontSize":23,"labelFontSize":22,"domainWidth":5,"tickWidth":4,"tickSize":13,"labelPadding":4}}},
"layer":[
{"mark":{"type":"rule","strokeWidth":2},"encoding":{"y":{"field":"v","type":"quantitative","scale":{"domain":[1,3],"nice":false},"axis":{"title":"Viability (AUC)","values":[1,1.5,2,2.5,3],"format":".1f","titleX":-72.7,"titleY":152,"titleFontSize":24,"labelFontSize":22,"domainWidth":5,"tickWidth":4,"tickSize":14}},"y2":{"field":"cap"},"color":{"field":"group","type":"nominal","sort":null,"scale":{"range":["#0a33ff","#00c603"]},"legend":null}}},
{"mark":{"type":"tick","orient":"horizontal","size":49,"thickness":2.5},"encoding":{"y":{"field":"cap","type":"quantitative"},"color":{"field":"group","type":"nominal","sort":null,"legend":null}}},
{"mark":{"type":"bar"},"encoding":{"y":{"field":"v","type":"quantitative"},"y2":{"datum":1},"color":{"field":"group","type":"nominal","sort":null,"legend":null}}},
{"data":{"values":[{"group":"pBP","y":2.007,"step":1},{"group":"pBP","y":2.886,"step":2},{"group":"U46C-C66S","y":2.886,"step":3},{"group":"U46C-C66S","y":2.752,"step":4}]},"mark":{"type":"line","color":"#111","strokeWidth":5,"strokeCap":"butt"},"encoding":{"y":{"field":"y","type":"quantitative"},"order":{"field":"step"}}},
{"data":{"values":[{"group":"pBP","y":2.955,"label":"****"}]},"mark":{"type":"text","fontSize":44,"fontWeight":"bold","xOffset":70.5},"encoding":{"y":{"field":"y","type":"quantitative"},"text":{"field":"label"}}}
]}]}]},
{"bounds":"flush","spacing":0,"hconcat":[
{"width":1595,"height":1,"data":{"values":[]},"mark":"point","encoding":{}},
{"bounds":"flush","spacing":0,"vconcat":[
{"width":1,"height":1477.7,"data":{"values":[]},"mark":"point","encoding":{}},
{"width":327,"height":304,"title":{"text":"ML162","fontSize":28,"offset":21},
"data":{"values":[{"group":"pBP","v":1.961,"cap":1.982},{"group":"U46C-C66S","v":2.594,"cap":2.629}]},
"encoding":{"x":{"field":"group","type":"nominal","sort":null,"scale":{"paddingInner":0.318,"paddingOuter":0.322},"axis":{"title":"HT1080 OE GFP-cGPX4","titleX":164,"titleY":66,"titleFontSize":23,"labelFontSize":22,"domainWidth":5,"tickWidth":4,"tickSize":13,"labelPadding":4}}},
"layer":[
{"mark":{"type":"rule","strokeWidth":2},"encoding":{"y":{"field":"v","type":"quantitative","scale":{"domain":[1,3],"nice":false},"axis":{"title":"Viability (AUC)","values":[1,1.5,2,2.5,3],"format":".1f","titleX":-73,"titleY":152,"titleFontSize":24,"labelFontSize":22,"domainWidth":5,"tickWidth":4,"tickSize":14}},"y2":{"field":"cap"},"color":{"field":"group","type":"nominal","sort":null,"legend":null}}},
{"mark":{"type":"tick","orient":"horizontal","size":49,"thickness":2.5},"encoding":{"y":{"field":"cap","type":"quantitative"},"color":{"field":"group","type":"nominal","sort":null,"scale":{"range":["#0a33ff","#00c603"]},"legend":null}}},
{"mark":{"type":"bar"},"encoding":{"y":{"field":"v","type":"quantitative"},"y2":{"datum":1},"color":{"field":"group","type":"nominal","sort":null,"legend":null}}},
{"data":{"values":[{"group":"pBP","y":2.092,"step":1},{"group":"pBP","y":2.868,"step":2},{"group":"U46C-C66S","y":2.868,"step":3},{"group":"U46C-C66S","y":2.737,"step":4}]},"mark":{"type":"line","color":"#111","strokeWidth":5,"strokeCap":"butt"},"encoding":{"y":{"field":"y","type":"quantitative"},"order":{"field":"step"}}},
{"data":{"values":[{"group":"pBP","y":2.943,"label":"****"}]},"mark":{"type":"text","fontSize":44,"fontWeight":"bold","xOffset":70.2},"encoding":{"y":{"field":"y","type":"quantitative"},"text":{"field":"label"}}}
]}]}]},
{"bounds":"flush","spacing":0,"hconcat":[
{"width":10,"height":1,"data":{"values":[]},"mark":"point","encoding":{}},
{"bounds":"flush","spacing":0,"vconcat":[
{"width":1,"height":3,"data":{"values":[]},"mark":"point","encoding":{}},
{"width":16,"height":16,"data":{"values":[{"letter":"A"}]},"mark":{"type":"text","fontSize":23,"fontWeight":"bold"},"encoding":{"text":{"field":"letter"}}}]}]},
{"bounds":"flush","spacing":0,"hconcat":[
{"width":1,"height":1,"data":{"values":[]},"mark":"point","encoding":{}},
{"bounds":"flush","spacing":0,"vconcat":[
{"width":1,"height":423,"data":{"values":[]},"mark":"point","encoding":{}},
{"width":16,"height":16,"data":{"values":[{"letter":"B"}]},"mark":{"type":"text","fontSize":23,"fontWeight":"bold"},"encoding":{"text":{"field":"letter"}}}]}]},
{"bounds":"flush","spacing":0,"hconcat":[
{"width":1010,"height":1,"data":{"values":[]},"mark":"point","encoding":{}},
{"bounds":"flush","spacing":0,"vconcat":[
{"width":1,"height":411,"data":{"values":[]},"mark":"point","encoding":{}},
{"width":16,"height":16,"data":{"values":[{"letter":"C"}]},"mark":{"type":"text","fontSize":23,"fontWeight":"bold"},"encoding":{"text":{"field":"letter"}}}]}]},
{"bounds":"flush","spacing":0,"hconcat":[
{"width":7,"height":1,"data":{"values":[]},"mark":"point","encoding":{}},
{"bounds":"flush","spacing":0,"vconcat":[
{"width":1,"height":880,"data":{"values":[]},"mark":"point","encoding":{}},
{"width":16,"height":16,"data":{"values":[{"letter":"D"}]},"mark":{"type":"text","fontSize":23,"fontWeight":"bold"},"encoding":{"text":{"field":"letter"}}}]}]},
{"bounds":"flush","spacing":0,"hconcat":[
{"width":18,"height":1,"data":{"values":[]},"mark":"point","encoding":{}},
{"bounds":"flush","spacing":0,"vconcat":[
{"width":1,"height":1386,"data":{"values":[]},"mark":"point","encoding":{}},
{"width":16,"height":16,"data":{"values":[{"letter":"E"}]},"mark":{"type":"text","fontSize":23,"fontWeight":"bold"},"encoding":{"text":{"field":"letter"}}}]}]},
{"bounds":"flush","spacing":0,"hconcat":[
{"width":1009,"height":1,"data":{"values":[]},"mark":"point","encoding":{}},
{"bounds":"flush","spacing":0,"vconcat":[
{"width":1,"height":1379,"data":{"values":[]},"mark":"point","encoding":{}},
{"width":16,"height":16,"data":{"values":[{"letter":"F"}]},"mark":{"type":"text","fontSize":23,"fontWeight":"bold"},"encoding":{"text":{"field":"letter"}}}]}]}
]}
